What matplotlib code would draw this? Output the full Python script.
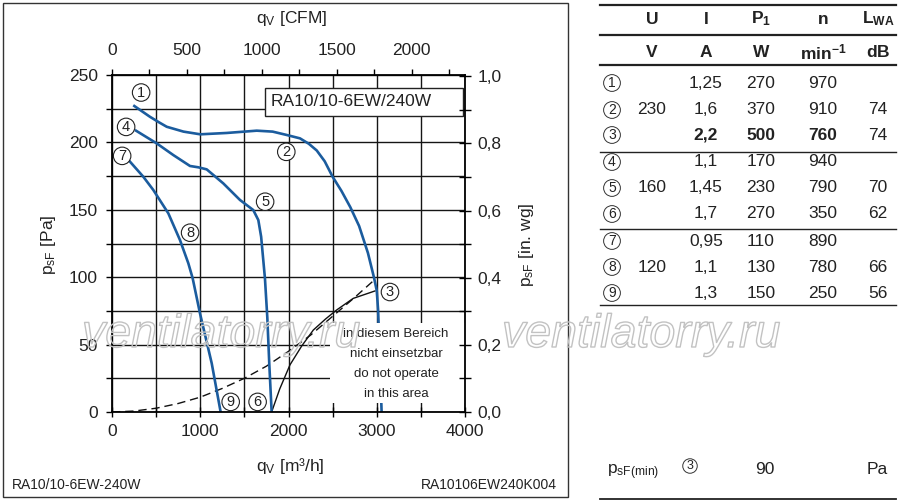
import matplotlib
matplotlib.use('Agg')
import matplotlib.pyplot as plt
import matplotlib.patheffects as pe
from matplotlib.patches import Rectangle
from matplotlib.lines import Line2D
from matplotlib.ticker import MultipleLocator, FuncFormatter, FixedLocator

plt.rcParams['font.family'] = ['Liberation Sans', 'DejaVu Sans']
plt.rcParams['mathtext.fontset'] = 'custom'
plt.rcParams['mathtext.rm'] = 'Liberation Sans'
plt.rcParams['mathtext.it'] = 'Liberation Sans:italic'
plt.rcParams['mathtext.bf'] = 'Liberation Sans:bold'

# ---------------- data ----------------
# 230 V curve (1 - 2 - 3)
q_230 = [253, 430, 530, 620, 810, 1000, 1300, 1640, 1820, 1980, 2130, 2230, 2320, 2410, 2500,
         2600, 2700, 2800, 2900, 2970, 3000, 3015, 3030, 3055]
p_230 = [227, 219, 215, 211.6, 208, 206, 207, 208.7, 208, 205.5, 203, 199, 194, 186, 174.5,
         164, 152, 138, 118, 99.4, 90, 76, 50, 0]
# 160 V curve (4 - 5 - 6)
q_160 = [272, 506, 695, 884, 980, 1073, 1261, 1450, 1601, 1658, 1690, 1714, 1733, 1760, 1782, 1809]
p_160 = [208.7, 199.3, 190.6, 182.5, 181.5, 180, 169.6, 157.3, 149.8, 142.4, 130, 112.8, 99.2, 70, 36, 0]
# 120 V curve (7 - 8 - 9)
q_120 = [204, 355, 468, 638, 770, 865, 914, 997, 1130, 1231]
p_120 = [185.7, 174.5, 164.7, 147.4, 127.6, 110.3, 99.2, 73.2, 36.1, 0]
# system characteristic (dashed)
q_sys = [0, 250, 500, 750, 1000, 1250, 1500, 1750, 2000, 2250, 2500, 2750, 2980]
p_sys = [0, 0.7, 2.8, 6.3, 11, 17.5, 25, 34, 45, 57, 71, 85, 98.4]
# limit curve (solid black)
q_lim = [1809, 1900, 2017, 2150, 2281, 2420, 2546, 2734, 2980]
p_lim = [0, 17, 35, 49, 60.8, 69, 75.7, 84.3, 89.8]

# circled curve labels (number, q, p)
lbl_num = ['1', '2', '3', '4', '5', '6', '7', '8', '9']
lbl_q = [330, 1975, 3150, 160, 1735, 1650, 115, 885, 1345]
lbl_p = [237, 193, 89, 211.5, 156, 7.5, 190, 133, 7.5]

# table
t_circ = ['1', '2', '3', '4', '5', '6', '7', '8', '9']
t_U = ['', '230', '', '', '160', '', '', '120', '']
t_I = ['1,25', '1,6', '2,2', '1,1', '1,45', '1,7', '0,95', '1,1', '1,3']
t_P = ['270', '370', '500', '170', '230', '270', '110', '130', '150']
t_n = ['970', '910', '760', '940', '790', '350', '890', '780', '250']
t_L = ['', '74', '74', '', '70', '62', '', '66', '56']
bold_row = 2

x_ticks = [0, 1000, 2000, 3000, 4000]
y_ticks = [0, 50, 100, 150, 200, 250]
cfm_ticks = [0, 500, 1000, 1500, 2000]
inwg_ticks = [0.0, 0.2, 0.4, 0.6, 0.8, 1.0]

BLUE = '#1b5c9e'
TXT = '#222222'
W, H = 900, 503


def fx(px):
    return px / W


def fy(py):
    return 1 - py / H


fig = plt.figure(figsize=(9, 5.03), dpi=100)

# panel border
fig.add_artist(Rectangle((fx(3), fy(497)), (568 - 3) / W, (497 - 3) / H,
                         transform=fig.transFigure, fill=False, ec='#333333', lw=1.0))

ax = fig.add_axes([fx(112), fy(412), (465 - 112) / W, (412 - 75) / H])
ax.set_xlim(0, 4000)
ax.set_ylim(0, 250)
ax.xaxis.set_major_locator(FixedLocator(x_ticks))
ax.xaxis.set_minor_locator(MultipleLocator(500))
ax.yaxis.set_major_locator(FixedLocator(y_ticks))
ax.yaxis.set_minor_locator(MultipleLocator(25))
ax.grid(which='both', color='#151515', lw=1.0)
ax.set_axisbelow(True)
ax.tick_params(axis='x', which='both', direction='inout', length=7, width=1.0,
               labelsize=12.5, labelcolor=TXT, pad=5)
ax.tick_params(axis='y', which='both', direction='out', length=4, width=1.0,
               labelsize=12.5, labelcolor=TXT, pad=6)
for s in ax.spines.values():
    s.set_linewidth(1.3)
    s.set_zorder(6)

# curves
ax.plot(q_230, p_230, color=BLUE, lw=1.9, zorder=2.5, solid_joinstyle='round')
ax.plot(q_160, p_160, color=BLUE, lw=1.9, zorder=2.5, solid_joinstyle='round')
ax.plot(q_120, p_120, color=BLUE, lw=1.9, zorder=2.5, solid_joinstyle='round')
ax.plot(q_sys, p_sys, color='#111111', lw=1.0, ls=(0, (6, 3.5)), zorder=2.4)
ax.plot(q_lim, p_lim, color='#111111', lw=1.0, zorder=2.4)

# circled labels
for n, q, p in zip(lbl_num, lbl_q, lbl_p):
    ax.text(q, p, n, ha='center', va='center', fontsize=10.5, color=TXT, zorder=5,
            bbox=dict(boxstyle='circle,pad=0.12', fc='white', ec='#222222', lw=0.8))

# title box
ax.add_patch(Rectangle((1733, 219.5), 3977 - 1733, 240.5 - 219.5, fc='white',
                       ec='#222222', lw=1.0, zorder=4))
ax.text(1800, 230, 'RA10/10-6EW/240W', ha='left', va='center', fontsize=12.5,
        color=TXT, zorder=5)

# "do not operate" area
ax.add_patch(Rectangle((2475, 7), 1525, 59, fc='white', ec='none', zorder=3))
for txt, p in zip(['in diesem Bereich', 'nicht einsetzbar', 'do not operate', 'in this area'],
                  [57.9, 43.0, 28.2, 13.4]):
    ax.text(3218, p, txt, ha='center', va='center', fontsize=9.5, color=TXT, zorder=5)

# right axis (in. wg)
ax2 = ax.twinx()
ax2.set_ylim(0, 250 / 249.089)
ax2.yaxis.set_major_locator(FixedLocator(inwg_ticks))
ax2.yaxis.set_minor_locator(MultipleLocator(0.1))
ax2.yaxis.set_major_formatter(FuncFormatter(lambda v, _: f'{v:.1f}'.replace('.', ',')))
ax2.tick_params(axis='y', which='both', direction='inout', length=8, width=1.0,
                labelsize=12.5, labelcolor=TXT, pad=5)
for s in ax2.spines.values():
    s.set_visible(False)

# top axis (CFM)
ax3 = ax.twiny()
ax3.set_xlim(0, 4000 / 1.699)
ax3.xaxis.set_major_locator(FixedLocator(cfm_ticks))
ax3.xaxis.set_minor_locator(FixedLocator([250, 750, 1250, 1750, 2250]))
ax3.tick_params(axis='x', which='both', direction='out', length=4, width=1.0,
                labelsize=12.5, labelcolor=TXT, pad=8)
for s in ax3.spines.values():
    s.set_visible(False)

# axis titles
fig.text(fx(292), fy(19), r'$\mathregular{q_V}$ [CFM]', ha='center', va='center',
         fontsize=12.5, color=TXT)
fig.text(fx(290), fy(466), r'$\mathregular{q_V}$ [m³/h]', ha='center', va='center',
         fontsize=12.5, color=TXT)
fig.text(fx(48), fy(245), r'$\mathregular{p_{sF}}$ [Pa]', ha='center', va='center',
         rotation=90, fontsize=12.5, color=TXT)
fig.text(fx(527), fy(245), r'$\mathregular{p_{sF}}$ [in. wg]', ha='center', va='center',
         rotation=90, fontsize=12.5, color=TXT)
fig.text(fx(12), fy(485), 'RA10/10-6EW-240W', ha='left', va='center', fontsize=10, color=TXT)
fig.text(fx(557), fy(485), 'RA10106EW240K004', ha='right', va='center', fontsize=10, color=TXT)

# ---------------- table ----------------
def line(py, lw=1.0):
    fig.add_artist(Line2D([fx(600), fx(896)], [fy(py), fy(py)], transform=fig.transFigure,
                          color='#222222', lw=lw))


for py, lw in [(5, 1.6), (35, 1.6), (65, 1.6), (152, 1.0), (229, 1.0), (305, 1.0), (499, 1.3)]:
    line(py, lw)

cols = [652, 706, 761, 823, 878]
head1 = [r'$\mathbf{U}$', r'$\mathbf{I}$', r'$\mathbf{P_1}$', r'$\mathbf{n}$', r'$\mathbf{L_{WA}}$']
head2 = [r'$\mathbf{V}$', r'$\mathbf{A}$', r'$\mathbf{W}$', r'$\mathbf{min^{-1}}$', r'$\mathbf{dB}$']
for x, h1, h2 in zip(cols, head1, head2):
    fig.text(fx(x), fy(19), h1, ha='center', va='center', fontsize=12.5, color=TXT)
    fig.text(fx(x), fy(52), h2, ha='center', va='center', fontsize=12.5, color=TXT)

row_y = [83, 110, 135, 162, 188, 214, 241, 267, 293]
for i, py in enumerate(row_y):
    fig.text(fx(612), fy(py), t_circ[i], ha='center', va='center', fontsize=10, color=TXT,
             bbox=dict(boxstyle='circle,pad=0.1', fc='white', ec='#333333', lw=0.7))
    vals = [t_U[i], t_I[i], t_P[i], t_n[i], t_L[i]]
    for j, (x, v) in enumerate(zip(cols, vals)):
        if not v:
            continue
        wt = 'bold' if (i == bold_row and j in (1, 2, 3)) else 'normal'
        fig.text(fx(x), fy(py), v, ha='center', va='center', fontsize=12.5,
                 color=TXT, fontweight=wt)

fig.text(fx(607), fy(472), r'$\mathregular{p_{sF(min)}}$', ha='left', va='center',
         fontsize=12.5, color=TXT)
fig.text(fx(690), fy(466), '3', ha='center', va='center', fontsize=9, color=TXT,
         bbox=dict(boxstyle='circle,pad=0.1', fc='white', ec='#333333', lw=0.7))
fig.text(fx(765), fy(470), '90', ha='center', va='center', fontsize=12.5, color=TXT)
fig.text(fx(877), fy(470), 'Pa', ha='center', va='center', fontsize=12.5, color=TXT)

# watermark (hollow outlined letters laid over the whole picture)
for x0 in (82, 502):
    fig.text(fx(x0), fy(347), 'ventilatorry.ru', ha='left', va='baseline', fontsize=33.5,
             style='italic', color=(1, 1, 1, 0), zorder=20,
             path_effects=[pe.withStroke(linewidth=1.0, foreground='#c2c2c2')])

fig.savefig('out.png', dpi=100)
